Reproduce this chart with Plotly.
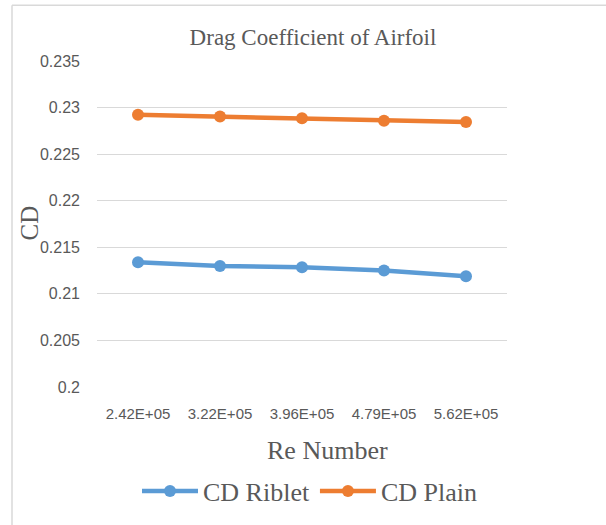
import plotly.graph_objects as go

categories = ["2.42E+05", "3.22E+05", "3.96E+05", "4.79E+05", "5.62E+05"]
cd_riblet = [0.2134, 0.2130, 0.21286, 0.2125, 0.2119]
cd_plain = [0.22922, 0.22904, 0.22886, 0.22858, 0.22844]
y_ticks = [0.2, 0.205, 0.21, 0.215, 0.22, 0.225, 0.23, 0.235]
y_ticktext = ["0.2", "0.205", "0.21", "0.215", "0.22", "0.225", "0.23", "0.235"]

W, H = 606, 525
L, R, T, B = 97, 99, 61, 137
pw, ph = W - L - R, H - T - B

def px_x(x):
    return (x - L) / pw

def px_y(y):
    return (H - B - y) / ph

serif = "Liberation Serif"
sans = "Liberation Sans"
gray = "#595959"

fig = go.Figure()
fig.add_trace(go.Scatter(x=categories, y=cd_riblet, name="CD Riblet", mode="lines+markers",
                         line=dict(color="#5B9BD5", width=4.5),
                         marker=dict(color="#5B9BD5", size=12)))
fig.add_trace(go.Scatter(x=categories, y=cd_plain, name="CD Plain", mode="lines+markers",
                         line=dict(color="#ED7D31", width=4.5),
                         marker=dict(color="#ED7D31", size=12)))

fig.update_layout(
    width=W, height=H,
    margin=dict(l=L, r=R, t=T, b=B),
    paper_bgcolor="white", plot_bgcolor="white",
    title=dict(text="Drag Coefficient of Airfoil", x=313 / W, xref="container", xanchor="center",
               y=1 - 37 / H, yref="container", yanchor="middle",
               font=dict(family=serif, size=23, color=gray)),
    xaxis=dict(type="category", range=[-0.5, 4.5], showgrid=False, showline=False, zeroline=False,
               ticks="", tickfont=dict(family=sans, size=15, color=gray), ticklabelstandoff=16),
    yaxis=dict(range=[0.2, 0.235], tickvals=y_ticks, ticktext=y_ticktext, showgrid=True,
               gridcolor="#D9D9D9", gridwidth=1, zeroline=False, showline=False, ticks="",
               tickfont=dict(family=sans, size=16, color=gray), ticklabelstandoff=16),
    showlegend=True,
    legend=dict(orientation="h", x=px_x(310), xanchor="center", y=px_y(491), yanchor="middle",
                font=dict(family=serif, size=26, color=gray), itemwidth=56, tracegroupgap=0,
                bgcolor="rgba(0,0,0,0)"),
    annotations=[
        dict(text="Re Number", x=px_x(327), y=px_y(452), xref="paper", yref="paper",
             xanchor="center", yanchor="middle", showarrow=False,
             font=dict(family=serif, size=26, color=gray)),
        dict(text="CD", x=px_x(30), y=px_y(224), xref="paper", yref="paper", textangle=-90,
             xanchor="center", yanchor="middle", showarrow=False,
             font=dict(family=serif, size=25, color=gray)),
    ],
    shapes=[
        dict(type="line", xref="paper", yref="paper", x0=px_x(12), x1=px_x(12),
             y0=px_y(5), y1=px_y(600), line=dict(color="#D9D9D9", width=1.5)),
        dict(type="line", xref="paper", yref="paper", x0=px_x(12), x1=px_x(700),
             y0=px_y(5), y1=px_y(5), line=dict(color="#D9D9D9", width=1.5)),
    ],
)

fig.write_html("out.html")
